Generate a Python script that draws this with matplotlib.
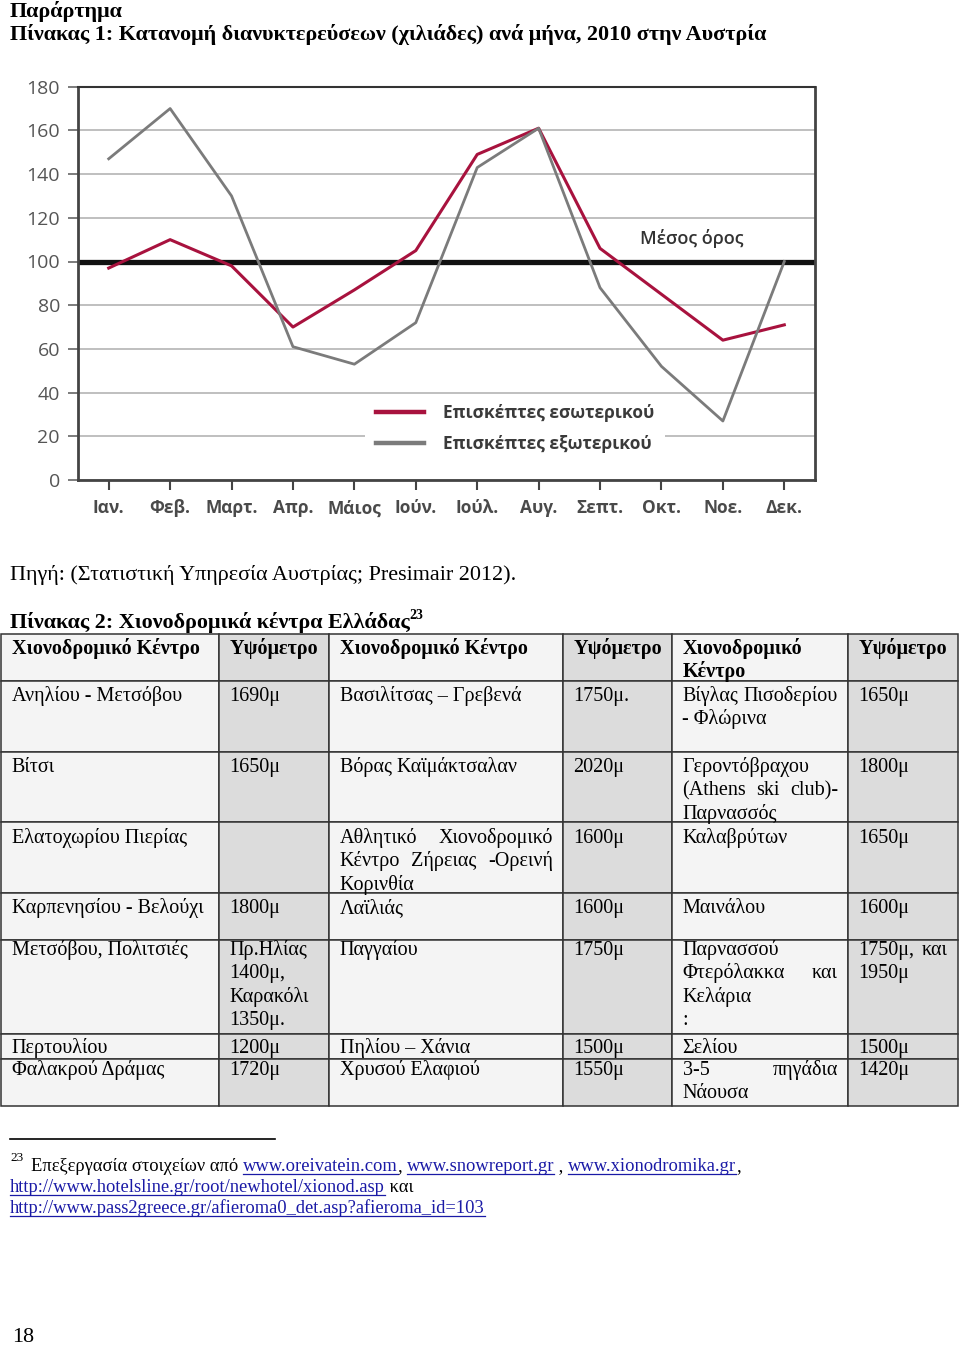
import matplotlib
matplotlib.use('Agg')
import matplotlib.pyplot as plt
from matplotlib.patches import Rectangle

# --- chart data (thousands of overnight stays, Austria 2010) ---
months = ['Ιαν.', 'Φεβ.', 'Μαρτ.', 'Απρ.', 'Μάιος', 'Ιούν.', 'Ιούλ.', 'Αυγ.',
          'Σεπτ.', 'Οκτ.', 'Νοε.', 'Δεκ.']
domestic = [97, 110, 98, 70, 87, 105, 149, 161, 106, 85, 64, 71]
foreign = [147, 170, 130, 61, 53, 72, 143, 161, 88, 52, 27, 100]
average = 100
y_ticks = [0, 20, 40, 60, 80, 100, 120, 140, 160, 180]
series_labels = ['Επισκέπτες εσωτερικού', 'Επισκέπτες εξωτερικού']
average_label = 'Μέσος όρος'

# --- table data ---
table_header = ['Χιονοδρομικό Κέντρο', 'Υψόμετρο', 'Χιονοδρομικό Κέντρο', 'Υψόμετρο',
                'Χιονοδρομικό\nΚέντρο', 'Υψόμετρο']
table_rows = [
    ['Ανηλίου - Μετσόβου', '1690μ', 'Βασιλίτσας – Γρεβενά', '1750μ.',
     'Βίγλας Πισοδερίου\n- Φλώρινα', '1650μ'],
    ['Βίτσι', '1650μ', 'Βόρας Καϊμάκτσαλαν', '2020μ',
     'Γεροντόβραχου\n(Athens ski club)-\nΠαρνασσός', '1800μ'],
    ['Ελατοχωρίου Πιερίας', '', 'Αθλητικό Χιονοδρομικό\nΚέντρο Ζήρειας -Ορεινή\nΚορινθία', '1600μ',
     'Καλαβρύτων', '1650μ'],
    ['Καρπενησίου - Βελούχι', '1800μ', 'Λαϊλιάς', '1600μ', 'Μαινάλου', '1600μ'],
    ['Μετσόβου, Πολιτσιές', 'Πρ.Ηλίας\n1400μ,\nΚαρακόλι\n1350μ.', 'Παγγαίου', '1750μ',
     'Παρνασσού\nΦτερόλακκα και\nΚελάρια\n:', '1750μ, και\n1950μ'],
    ['Περτουλίου', '1200μ', 'Πηλίου – Χάνια', '1500μ', 'Σελίου', '1500μ'],
    ['Φαλακρού Δράμας', '1720μ', 'Χρυσού Ελαφιού', '1550μ', '3-5 πηγάδια\nΝάουσα', '1420μ'],
]

footnote_links = ['www.oreivatein.com', 'www.snowreport.gr', 'www.xionodromika.gr',
                  'http://www.hotelsline.gr/root/newhotel/xionod.asp',
                  'http://www.pass2greece.gr/afieroma0_det.asp?afieroma_id=103']

serif = 'Liberation Serif'
sans = 'Open Sans'
red = '#a8123e'
grey = '#7b7b7b'
link_blue = '#1a1aa6'
body_size = 15.9
cell_size = 14.5
note_size = 13.3

fig = plt.figure(figsize=(9.6, 13.45), dpi=100)
page = fig.add_axes([0, 0, 1, 1])
page.set_xlim(0, 960)
page.set_ylim(1345, 0)
page.axis('off')
renderer = fig.canvas.get_renderer()


def width(s, **kw):
    t = page.text(0, 0, s + '|', **kw)
    w1 = t.get_window_extent(renderer).width
    t.remove()
    t = page.text(0, 0, '|', **kw)
    w2 = t.get_window_extent(renderer).width
    t.remove()
    return w1 - w2


def runs(x, y, parts, size):
    for s, link in parts:
        kw = dict(fontsize=size, family=serif)
        page.text(x, y, s, va='baseline', color=link_blue if link else 'black', **kw)
        w = width(s, **kw)
        if link:
            page.plot([x, x + w], [y + 2.5, y + 2.5], color=link_blue, lw=0.9)
        x += w
    return x


def cell_text(text, left, right, y, bold=False):
    kw = dict(fontsize=cell_size, family=serif, fontweight='bold' if bold else 'normal')
    lines = text.split('\n')
    for i, line in enumerate(lines):
        words = line.split(' ')
        if i < len(lines) - 1 and len(words) > 1:
            ws = [width(w, **kw) for w in words]
            gap = (right - left - sum(ws)) / (len(words) - 1)
            x = left
            for w, wd in zip(words, ws):
                page.text(x, y, w, va='baseline', ha='left', **kw)
                x += wd + gap
        else:
            page.text(left, y, line, va='baseline', ha='left', **kw)
        y += 23.4


# --- headings ---
page.text(10, 17, 'Παράρτημα', fontsize=body_size, family=serif, fontweight='bold', va='baseline')
page.text(10, 40, 'Πίνακας 1: Κατανομή διανυκτερεύσεων (χιλιάδες) ανά μήνα, 2010 στην Αυστρία',
          fontsize=body_size, family=serif, fontweight='bold', va='baseline')

# --- chart ---
ax = fig.add_axes([78 / 960, 1 - 480 / 1345, (815 - 78) / 960, (480 - 86.7) / 1345])
x = list(range(len(months)))
ax.axhline(average, color='#111111', lw=3.8, zorder=2)
ax.plot(x, domestic, color=red, lw=2.2, zorder=3, label=series_labels[0])
ax.plot(x, foreign, color=grey, lw=2.0, zorder=3, label=series_labels[1])
ax.set_xlim(-0.5, 11.5)
ax.set_ylim(0, 180)
ax.set_yticks(y_ticks)
ax.set_xticks(x)
ax.set_xticklabels(months, family=sans, fontweight='bold', fontsize=12.5, color='#4a4a4a')
ax.set_yticklabels([str(v) for v in y_ticks], family=sans, fontsize=14, color='#555555')
ax.yaxis.grid(True, color='#b4b4b4', lw=1.2, zorder=0)
ax.set_axisbelow(True)
ax.tick_params(axis='y', length=7, width=1.2, color='#666666', pad=6)
ax.tick_params(axis='x', length=7, width=1.5, color='#444444', pad=7)
for side in ['left', 'bottom', 'right']:
    ax.spines[side].set_color('#444444')
    ax.spines[side].set_linewidth(2)
ax.spines['top'].set_color('#333333')
ax.spines['top'].set_linewidth(1.5)
ax.text(8.65, 110.5, average_label, family=sans, fontsize=13, fontweight='semibold',
        color='#333333', va='center',
        bbox=dict(facecolor='white', edgecolor='none', pad=4))
leg = ax.legend(loc='lower left', bbox_to_anchor=(0.378, 0.02), frameon=True, fancybox=False,
                facecolor='white', edgecolor='none', framealpha=1, handlelength=2.8,
                handletextpad=1.1, labelspacing=0.75, borderpad=0.6,
                prop=dict(family=sans, size=12.5, weight='bold'))
for t in leg.get_texts():
    t.set_color('#3a3a3a')
for h in leg.get_lines():
    h.set_linewidth(3.2)

# --- source and table title ---
page.text(10, 580, 'Πηγή: (Στατιστική Υπηρεσία Αυστρίας; Presimair 2012).',
          fontsize=body_size, family=serif, va='baseline')
title2 = 'Πίνακας 2: Χιονοδρομικά κέντρα Ελλάδας'
page.text(10, 628, title2, fontsize=body_size, family=serif, fontweight='bold', va='baseline')
page.text(10 + width(title2, fontsize=body_size, family=serif, fontweight='bold'), 619, '23',
          fontsize=10, family=serif, fontweight='bold', va='baseline')

# --- table ---
col_x = [1, 219, 329, 563, 672, 848, 958]
row_y = [634, 681, 752, 822, 893, 940, 1034, 1059, 1106]
baselines = [654, 701, 772, 843, 913, 955, 1053, 1075]
all_rows = [table_header] + table_rows
for r, row in enumerate(all_rows):
    for c, text in enumerate(row):
        fill = '#dcdcdc' if c % 2 == 1 else '#f4f4f4'
        page.add_patch(Rectangle((col_x[c], row_y[r]), col_x[c + 1] - col_x[c],
                                 row_y[r + 1] - row_y[r], facecolor=fill,
                                 edgecolor='#333333', lw=1.1))
        cell_text(text, col_x[c] + 10.5, col_x[c + 1] - 10, baselines[r], bold=(r == 0))

# --- footnote ---
page.plot([10, 275], [1139, 1139], color='black', lw=1.2)
page.text(10, 1161, '23', fontsize=9.5, family=serif, va='baseline')
runs(31, 1171, [('Επεξεργασία στοιχείων από ', False), (footnote_links[0], True), (', ', False),
                (footnote_links[1], True), (' , ', False), (footnote_links[2], True),
                (',', False)], note_size)
runs(10, 1192, [(footnote_links[3], True), (' και', False)], note_size)
runs(10, 1213, [(footnote_links[4], True)], note_size)

page.text(12, 1342, '18', fontsize=body_size, family=serif, va='baseline')

fig.savefig('out.png', dpi=100)
